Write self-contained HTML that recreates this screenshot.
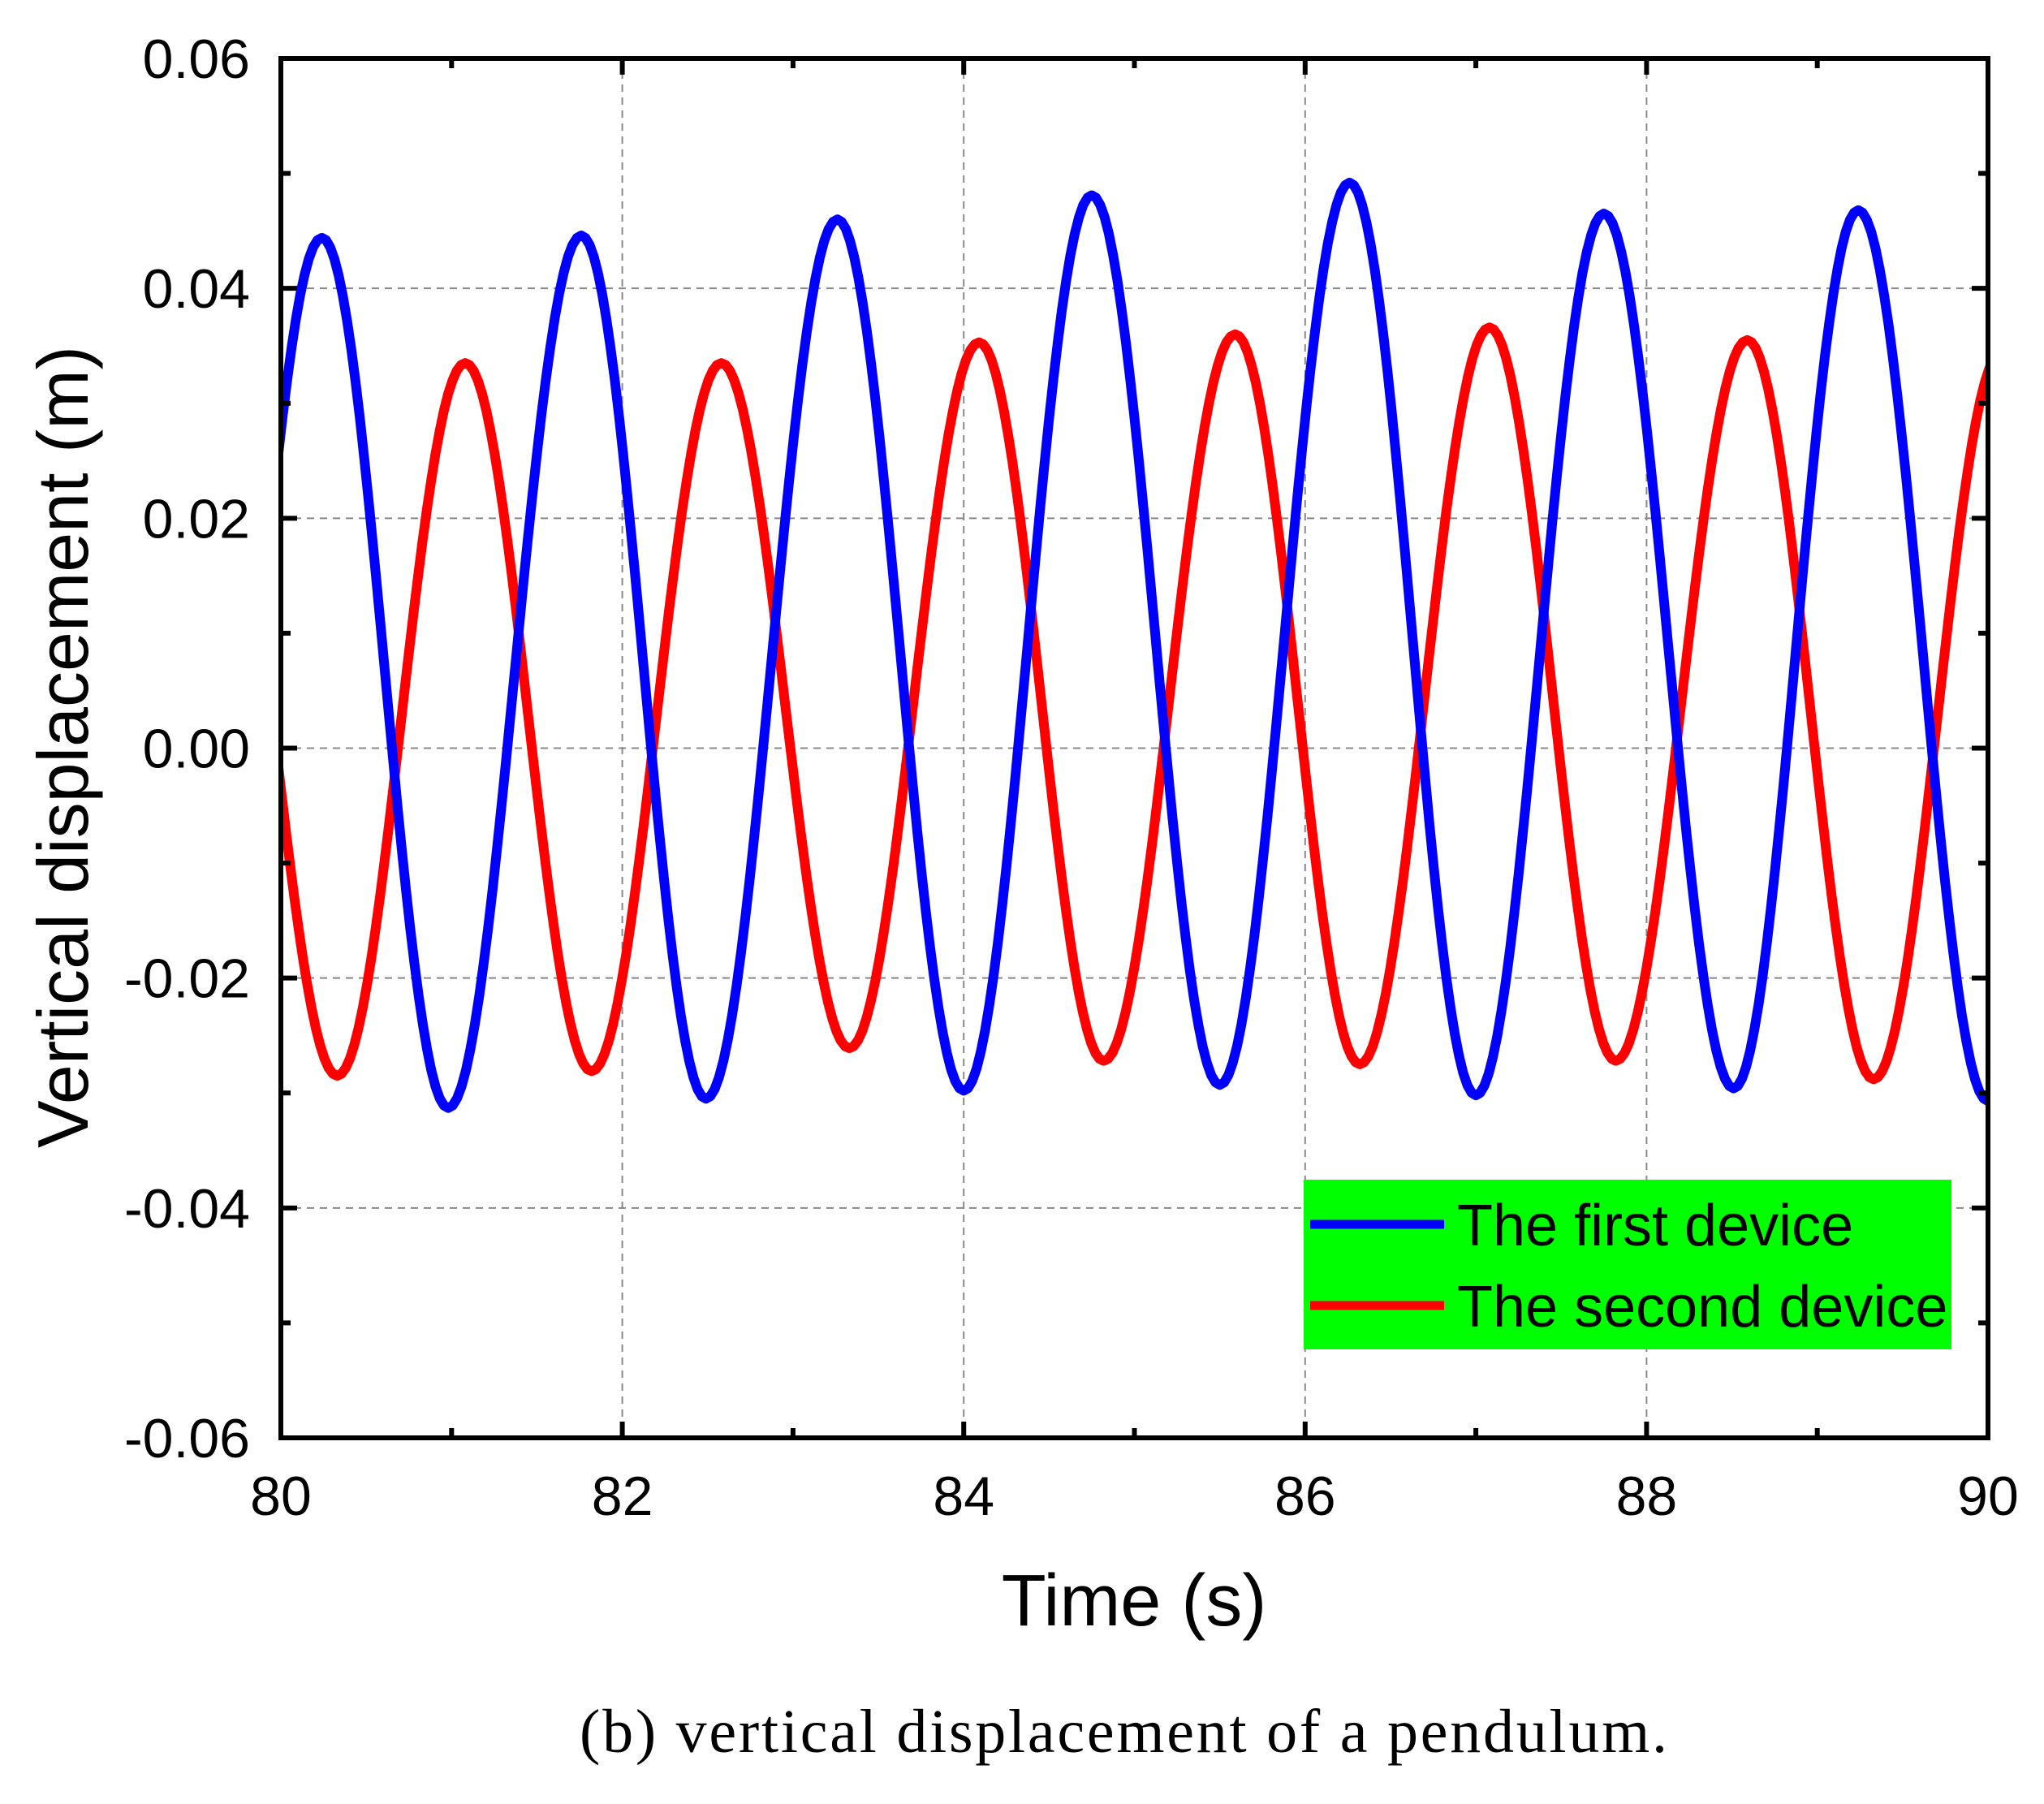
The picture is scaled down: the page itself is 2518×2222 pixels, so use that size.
<!DOCTYPE html>
<html><head><meta charset="utf-8"><style>html,body{margin:0;padding:0;background:#fff}</style></head>
<body>
<svg id="chart" width="2518" height="2217" xmlns="http://www.w3.org/2000/svg" font-family="'Liberation Sans', sans-serif">
<defs><clipPath id="pc"><rect x="346" y="72" width="2103" height="1699"/></clipPath></defs>
<g id="grid"></g>
<g id="series" clip-path="url(#pc)"></g>
<g id="axes"></g>
<g>
<rect x="1606" y="1453" width="798" height="209" fill="#00ff00"/>
<line x1="1614" y1="1508" x2="1779" y2="1508" stroke="#0000ff" stroke-width="11"/>
<text x="1795" y="1534" font-size="72">The first device</text>
<line x1="1614" y1="1608" x2="1779" y2="1608" stroke="#ff0000" stroke-width="11"/>
<text x="1795" y="1634" font-size="72">The second device</text>
</g>
<text x="1397" y="2002" font-size="90" text-anchor="middle">Time (s)</text>
<text transform="translate(108,920) rotate(-90)" font-size="88" text-anchor="middle">Vertical displacement (m)</text>
<text x="1384" y="2158" font-size="76" font-family="'Liberation Serif', serif" text-anchor="middle" textLength="1340">(b) vertical displacement of a pendulum.</text>
</svg>
<script>
const xTicks = [80, 82, 84, 86, 88, 90];
const yTicks = [-0.06, -0.04, -0.02, 0.00, 0.02, 0.04, 0.06];
const yTickLabels = ["-0.06", "-0.04", "-0.02", "0.00", "0.02", "0.04", "0.06"];
// extrema of each series (time s, displacement m)
const blueT = [79.48, 80.24, 80.98, 81.76, 82.49, 83.26, 84.0, 84.75, 85.5, 86.26, 87.0, 87.75, 88.51, 89.24, 90.0];
const blueV = [-0.030, 0.0444, -0.0313, 0.0446, -0.0305, 0.0460, -0.0298, 0.0481, -0.0293, 0.0492, -0.0302, 0.0465, -0.0296, 0.0468, -0.0307];
const redT = [79.58, 80.33, 81.08, 81.82, 82.58, 83.33, 84.09, 84.82, 85.59, 86.32, 87.08, 87.82, 88.59, 89.33, 90.08];
const redV = [0.033, -0.0285, 0.0335, -0.0281, 0.0335, -0.0261, 0.0353, -0.0272, 0.0360, -0.0275, 0.0366, -0.0272, 0.0355, -0.0288, 0.0345];

const L=346,R=2449,T=72,B=1771;
const sx=t=>L+(t-80)/10*(R-L);
const sy=v=>B-(v+0.06)/0.12*(B-T);
const NS="http://www.w3.org/2000/svg";
function mk(tag,attrs,parent){const e=document.createElementNS(NS,tag);for(const k in attrs)e.setAttribute(k,attrs[k]);parent.appendChild(e);return e;}
const grid=document.getElementById('grid'),axes=document.getElementById('axes'),series=document.getElementById('series');
xTicks.forEach(t=>{if(t>80&&t<90){const g=mk('line',{x1:sx(t),x2:sx(t),y1:T,y2:B,stroke:'#888','stroke-width':2,'stroke-dasharray':'9,7'},grid);

}});
yTicks.forEach(v=>{if(v>-0.059&&v<0.059){const g=mk('line',{x1:L,x2:R,y1:sy(v),y2:sy(v),stroke:'#888','stroke-width':2,'stroke-dasharray':'9,7'},grid);

}});
function curve(ts,vs,color,name){let d='';
for(let i=0;i<ts.length-1;i++){const t0=ts[i],t1=ts[i+1],v0=vs[i],v1=vs[i+1];
for(let k=0;k<=30;k++){const f=k/30;const t=t0+(t1-t0)*f;const v=v0+(v1-v0)*(1-Math.cos(Math.PI*f))/2;
d+=(d?'L':'M')+sx(t).toFixed(1)+','+sy(v).toFixed(1);}}
const p=mk('path',{d:d,fill:'none',stroke:color,'stroke-width':12,'stroke-linejoin':'round'},series);

}
curve(redT,redV,'#ff0000','series-second-device');
curve(blueT,blueV,'#0000ff','series-first-device');
const fr=mk('rect',{x:L,y:T,width:R-L,height:B-T,fill:'none',stroke:'#000','stroke-width':6},axes);


xTicks.forEach(t=>{const x=sx(t);
mk('line',{x1:x,x2:x,y1:B,y2:B-20,stroke:'#000','stroke-width':6},axes);
mk('line',{x1:x,x2:x,y1:T,y2:T+20,stroke:'#000','stroke-width':6},axes);
if(t<90){const xm=sx(t+1);mk('line',{x1:xm,x2:xm,y1:B,y2:B-12,stroke:'#000','stroke-width':6},axes);mk('line',{x1:xm,x2:xm,y1:T,y2:T+12,stroke:'#000','stroke-width':6},axes);}
const lb=mk('text',{x:x,y:1866,'font-size':68,'text-anchor':'middle'},axes);lb.textContent=String(t);

});
yTicks.forEach((v,i)=>{const y=sy(v);
mk('line',{x1:L,x2:L+20,y1:y,y2:y,stroke:'#000','stroke-width':6},axes);
mk('line',{x1:R,x2:R-20,y1:y,y2:y,stroke:'#000','stroke-width':6},axes);
if(i<yTicks.length-1){const ym=sy(v+0.01);mk('line',{x1:L,x2:L+12,y1:ym,y2:ym,stroke:'#000','stroke-width':6},axes);mk('line',{x1:R,x2:R-12,y1:ym,y2:ym,stroke:'#000','stroke-width':6},axes);}
const lb=mk('text',{x:308,y:y+24,'font-size':68,'text-anchor':'end'},axes);lb.textContent=yTickLabels[i];

});
</script>
</body></html>
